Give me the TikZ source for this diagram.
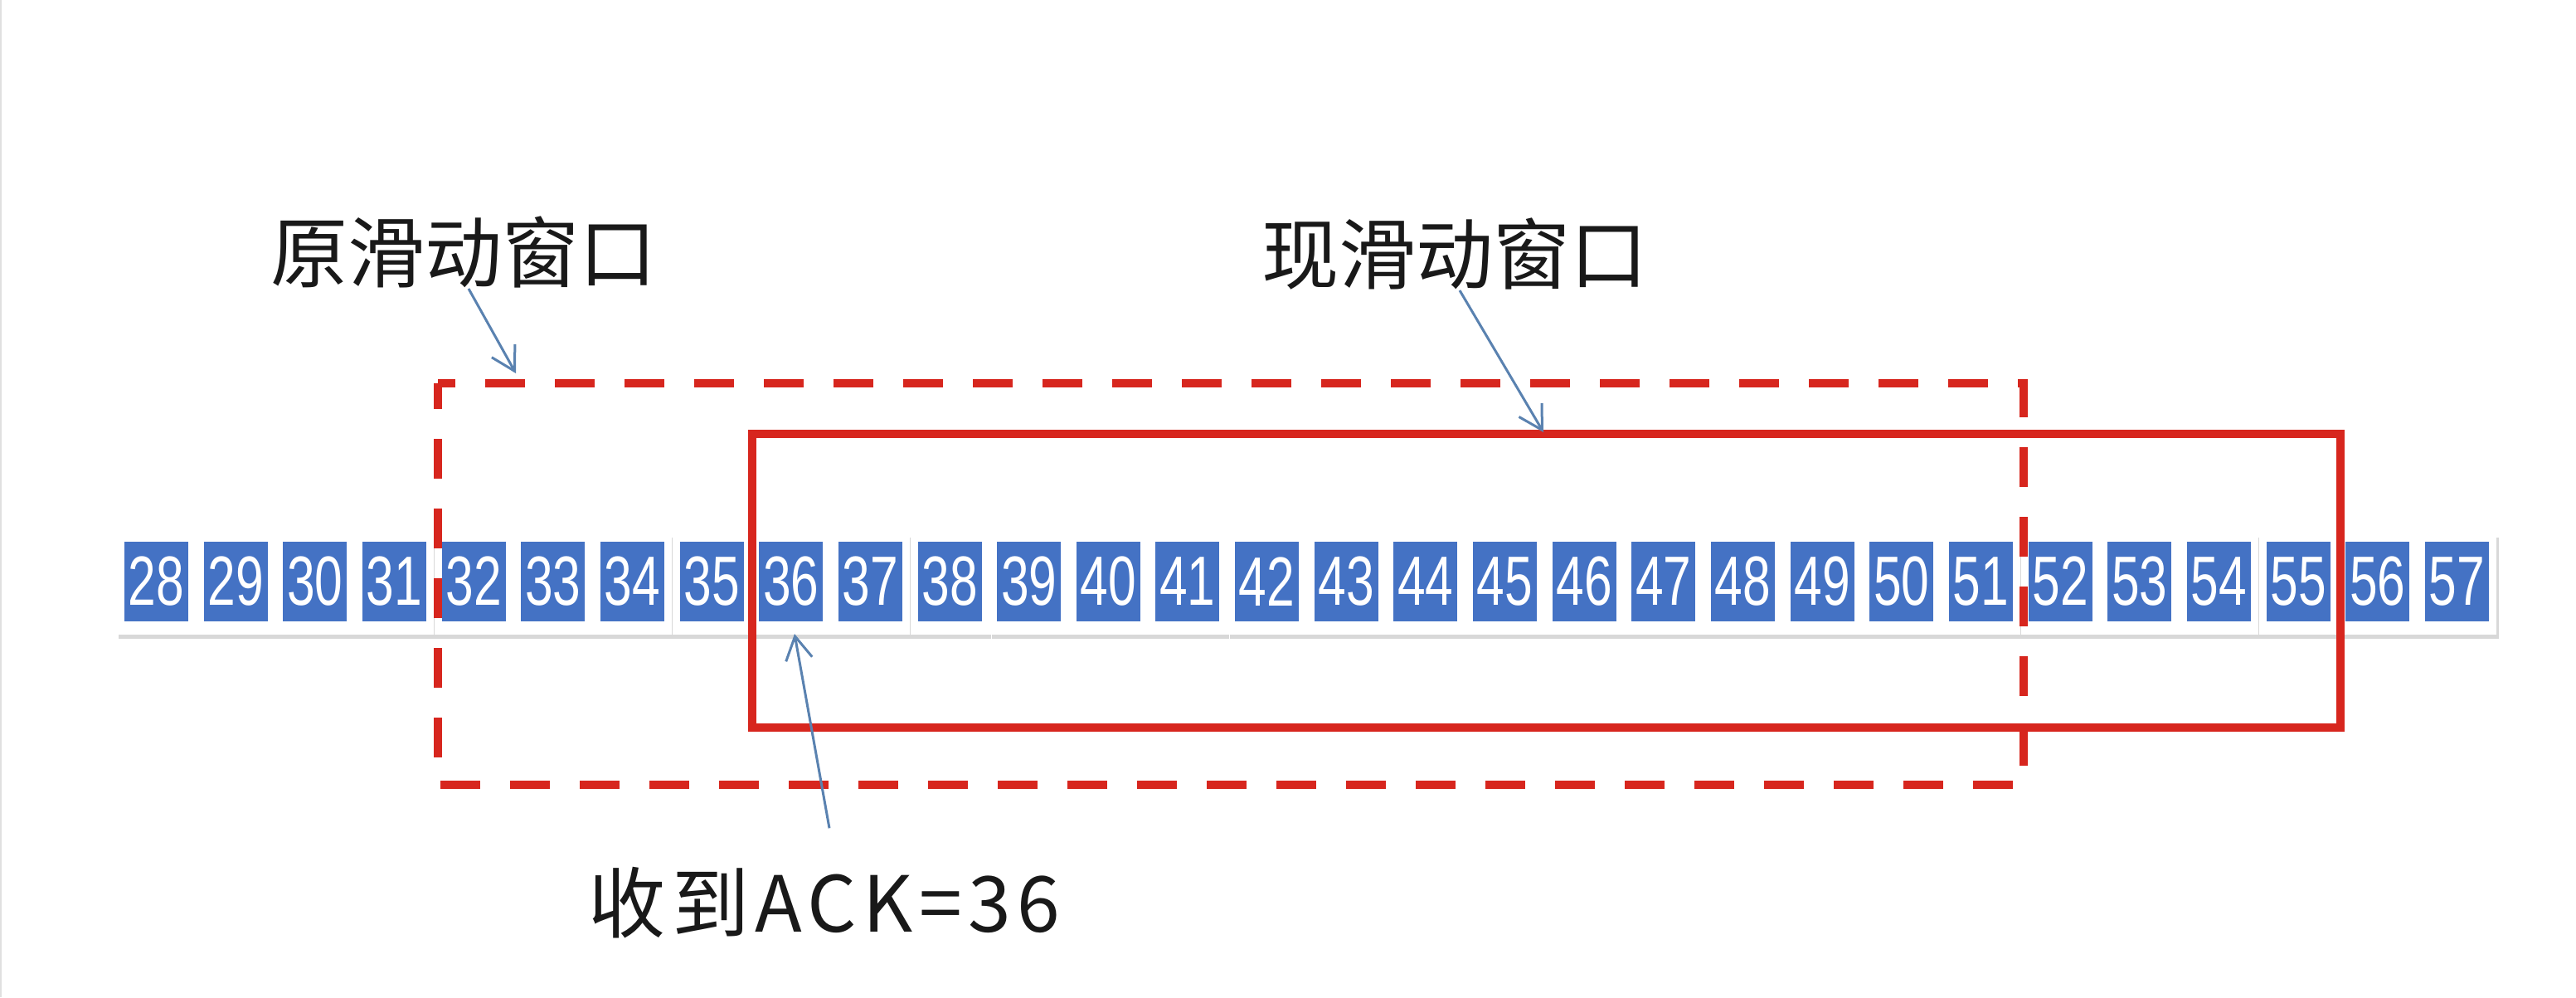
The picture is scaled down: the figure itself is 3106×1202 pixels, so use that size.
\documentclass[tikz,border=0pt]{standalone}
\usepackage{fontspec}
\setmainfont{Liberation Sans}
\newfontfamily\cjk{Noto Sans CJK SC}
\newfontfamily\cjkwide[LetterSpace=8]{Noto Sans CJK SC}
\usetikzlibrary{arrows.meta,shadows}
\definecolor{cellblue}{HTML}{4472C4}
\definecolor{winred}{HTML}{D7261E}
\definecolor{ptrblue}{HTML}{5A82B0}
\tikzset{
  tile/.style={fill=white, drop shadow={shadow xshift=0.6pt, shadow yshift=-1.2pt, opacity=0.25, fill=black!60}},
  cell/.style={fill=cellblue, minimum width=19.25pt, minimum height=24pt, inner sep=0pt, text=white,
    font=\fontsize{21}{21}\selectfont},
  lbl/.style={inner sep=0pt, font=\cjk\fontsize{23.3}{28}\selectfont, text=black!90},
  ptr/.style={draw=ptrblue, line width=0.75pt, -{Straight Barb[length=7pt,width=8pt]}},
  oldwin/.style={draw=winred, line width=2.5pt, dash pattern=on 12pt off 9pt, dash phase=4.25pt},
  newwin/.style={draw=winred, line width=2.4pt}
}
\begin{document}
\begin{tikzpicture}[x=0.25pt,y=-0.25pt]
\useasboundingbox (0,0) rectangle (3106,1202);
\fill[white] (0,0) rectangle (3106,1202);
\draw[black!12, line width=0.6pt] (1,0) -- (1,1202);
% tiles and cells
\foreach \n [count=\i from 0] in {28,...,57} {
  \pgfmathsetmacro\xl{150+95.65*\i}
  \path[tile] (\xl-9,643) rectangle (\xl+86.5,765);
  \node[cell] (c\n) at (\xl+38.5,701) {\scalebox{0.72}[1]{\n}};
}
% windows
\draw[oldwin] (528,462) -- (528,946) -- (2440,946) -- (2440,462) -- cycle;
\draw[newwin] (907,523) rectangle (2822,877);
% labels
\node[lbl] (lblOld) at (559,304) {原滑动窗口};
\node[lbl] (lblNew) at (1754,306) {现滑动窗口};
\node[lbl, font=\cjkwide\fontsize{23.3}{28}\selectfont] (lblAck) at (994,1088) {收到ACK=36};
% arrows
\coordinate (oldTip) at (622,450);
\coordinate (newTip) at (1861,521);
\coordinate (ackTip) at (958,764);
\draw[ptr] ([xshift=1.5pt]lblOld.south) -- (oldTip);
\draw[ptr] ([xshift=1.5pt]lblNew.south) -- (newTip);
\draw[ptr] ([xshift=1.5pt,yshift=11.5pt]lblAck.north) -- (ackTip);
\end{tikzpicture}
\end{document}
